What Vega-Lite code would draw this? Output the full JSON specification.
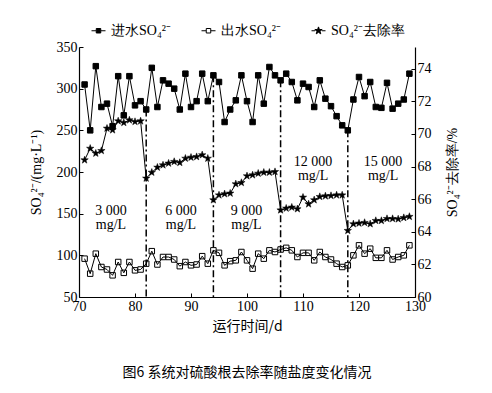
{
  "$schema": "https://vega.github.io/schema/vega-lite/v6.json",
  "width": 336,
  "height": 250,
  "autosize": {"type": "none"},
  "padding": {"left": 79, "top": 47, "right": 77, "bottom": 96},
  "background": "white",
  "config": {
    "view": {"stroke": null},
    "font": "Liberation Serif",
    "axis": {
      "grid": false,
      "domainColor": "black",
      "domainWidth": 1.2,
      "tickColor": "black",
      "tickSize": -4,
      "tickWidth": 1,
      "labelColor": "black",
      "labelFont": "Liberation Serif",
      "labelFontSize": 14,
      "labelPadding": 6,
      "labelOverlap": false,
      "labelFlush": false,
      "titleColor": "black",
      "titleFont": "Liberation Serif",
      "titleFontSize": 14,
      "titleFontWeight": "normal"
    }
  },
  "title": {
    "text": "图6 系统对硫酸根去除率随盐度变化情况",
    "orient": "bottom",
    "anchor": "middle",
    "font": "Noto Sans CJK SC",
    "fontSize": 14,
    "fontWeight": "normal",
    "color": "black",
    "offset": 33
  },
  "datasets": {
    "main": [
      {"day": 71, "in": 305, "out": 96, "rate": 68.40},
      {"day": 72, "in": 250, "out": 78, "rate": 69.11},
      {"day": 73, "in": 327, "out": 102, "rate": 68.81},
      {"day": 74, "in": 278, "out": 86, "rate": 68.97},
      {"day": 75, "in": 282, "out": 83, "rate": 70.34},
      {"day": 76, "in": 255, "out": 76, "rate": 70.24},
      {"day": 77, "in": 315, "out": 92, "rate": 70.79},
      {"day": 78, "in": 268, "out": 79, "rate": 70.69},
      {"day": 79, "in": 315, "out": 92, "rate": 70.85},
      {"day": 80, "in": 280, "out": 82, "rate": 70.75},
      {"day": 81, "in": 285, "out": 83, "rate": 70.79},
      {"day": 82, "in": 275, "out": 90, "rate": 67.28},
      {"day": 83, "in": 325, "out": 105, "rate": 67.64},
      {"day": 84, "in": 278, "out": 89, "rate": 67.95},
      {"day": 85, "in": 310, "out": 98, "rate": 68.09},
      {"day": 86, "in": 306, "out": 98, "rate": 68.20},
      {"day": 87, "in": 300, "out": 95, "rate": 68.30},
      {"day": 88, "in": 275, "out": 87, "rate": 68.24},
      {"day": 89, "in": 318, "out": 92, "rate": 68.50},
      {"day": 90, "in": 278, "out": 88, "rate": 68.56},
      {"day": 91, "in": 285, "out": 89, "rate": 68.60},
      {"day": 92, "in": 318, "out": 99, "rate": 68.71},
      {"day": 93, "in": 285, "out": 90, "rate": 68.50},
      {"day": 94, "in": 316, "out": 106, "rate": 65.95},
      {"day": 95, "in": 308, "out": 103, "rate": 66.25},
      {"day": 96, "in": 260, "out": 88, "rate": 66.32},
      {"day": 97, "in": 275, "out": 93, "rate": 66.36},
      {"day": 98, "in": 286, "out": 94, "rate": 66.93},
      {"day": 99, "in": 316, "out": 104, "rate": 67.01},
      {"day": 100, "in": 285, "out": 94, "rate": 67.42},
      {"day": 101, "in": 260, "out": 84, "rate": 67.48},
      {"day": 102, "in": 316, "out": 102, "rate": 67.58},
      {"day": 103, "in": 282, "out": 96, "rate": 67.64},
      {"day": 104, "in": 326, "out": 106, "rate": 67.64},
      {"day": 105, "in": 316, "out": 104, "rate": 67.68},
      {"day": 106, "in": 310, "out": 107, "rate": 65.33},
      {"day": 107, "in": 318, "out": 109, "rate": 65.44},
      {"day": 108, "in": 308, "out": 106, "rate": 65.50},
      {"day": 109, "in": 286, "out": 98, "rate": 65.40},
      {"day": 110, "in": 306, "out": 103, "rate": 66.11},
      {"day": 111, "in": 302, "out": 103, "rate": 65.70},
      {"day": 112, "in": 278, "out": 94, "rate": 65.95},
      {"day": 113, "in": 310, "out": 104, "rate": 66.15},
      {"day": 114, "in": 288, "out": 98, "rate": 66.19},
      {"day": 115, "in": 279, "out": 95, "rate": 66.21},
      {"day": 116, "in": 267, "out": 90, "rate": 66.25},
      {"day": 117, "in": 256, "out": 86, "rate": 66.25},
      {"day": 118, "in": 250, "out": 88, "rate": 64.07},
      {"day": 119, "in": 287, "out": 100, "rate": 64.48},
      {"day": 120, "in": 314, "out": 112, "rate": 64.52},
      {"day": 121, "in": 291, "out": 102, "rate": 64.56},
      {"day": 122, "in": 308, "out": 108, "rate": 64.48},
      {"day": 123, "in": 278, "out": 97, "rate": 64.68},
      {"day": 124, "in": 277, "out": 97, "rate": 64.68},
      {"day": 125, "in": 307, "out": 106, "rate": 64.80},
      {"day": 126, "in": 276, "out": 95, "rate": 64.80},
      {"day": 127, "in": 282, "out": 98, "rate": 64.78},
      {"day": 128, "in": 287, "out": 100, "rate": 64.86},
      {"day": 129, "in": 318, "out": 112, "rate": 64.93}
    ],
    "rules": [
      {"day": 82, "top": 275},
      {"day": 94, "top": 316},
      {"day": 106, "top": 310},
      {"day": 118, "top": 250}
    ],
    "labels": [
      {"day": 75.7, "value": 153, "text": "3 000"},
      {"day": 75.7, "value": 136, "text": "mg/L"},
      {"day": 88.2, "value": 153, "text": "6 000"},
      {"day": 88.2, "value": 136, "text": "mg/L"},
      {"day": 99.9, "value": 153, "text": "9 000"},
      {"day": 99.9, "value": 136, "text": "mg/L"},
      {"day": 111.8, "value": 212, "text": "12 000"},
      {"day": 111.8, "value": 195, "text": "mg/L"},
      {"day": 124.3, "value": 212, "text": "15 000"},
      {"day": 124.3, "value": 195, "text": "mg/L"}
    ],
    "series": [
      {"key": "in"},
      {"key": "out"},
      {"key": "rate"}
    ]
  },
  "layer": [
    {
      "layer": [
        {
          "data": {"name": "main"},
          "transform": [{"fold": ["in", "out"]}],
          "mark": {"type": "point", "filled": false, "stroke": "black", "strokeWidth": 1, "opacity": 1, "size": 30},
          "encoding": {
            "x": {
              "field": "day", "type": "quantitative",
              "scale": {"domain": [70, 130], "nice": false},
              "axis": {"values": [70, 80, 90, 100, 110, 120, 130], "labelOverlap": false, "title": "运行时间/d", "titleFont": "Noto Sans CJK SC", "titleFontSize": 14, "titlePadding": 6}
            },
            "y": {
              "field": "value", "type": "quantitative",
              "scale": {"domain": [50, 350], "nice": false, "zero": false},
              "axis": {"values": [50, 100, 150, 200, 250, 300, 350], "labelOverlap": false, "title": "SO₄²⁻/(mg·L⁻¹)", "titleX": -43, "titleY": 125, "titleAngle": -90, "titleAlign": "center", "titleBaseline": "middle"}
            },
            "shape": {
              "field": "key", "type": "nominal",
              "scale": {"domain": ["in", "out"], "range": ["square", "square"]},
              "legend": null
            },
            "fill": {"field": "key", "type": "nominal", "scale": {"domain": ["in", "out"], "range": ["black", "white"]}, "legend": null}
          }
        },
        {
          "data": {"name": "rules"},
          "mark": {"type": "rule", "color": "black", "strokeWidth": 1.5, "strokeDash": [7, 3, 2, 3]},
          "encoding": {
            "x": {"field": "day", "type": "quantitative", "scale": {"domain": [70, 130], "nice": false}},
            "y": {"field": "top", "type": "quantitative", "scale": {"domain": [50, 350], "nice": false, "zero": false}},
            "y2": {"datum": 50}
          }
        },
        {
          "data": {"name": "main"},
          "transform": [{"fold": ["in", "out"]}],
          "mark": {"type": "line", "color": "black", "strokeWidth": 1},
          "encoding": {
            "x": {"field": "day", "type": "quantitative", "scale": {"domain": [70, 130], "nice": false}},
            "y": {"field": "value", "type": "quantitative", "scale": {"domain": [50, 350], "nice": false, "zero": false}},
            "detail": {"field": "key"}
          }
        },
        {
          "data": {"name": "labels"},
          "mark": {"type": "text", "font": "Liberation Serif", "fontSize": 14, "color": "black", "baseline": "middle", "align": "center"},
          "encoding": {
            "x": {"field": "day", "type": "quantitative", "scale": {"domain": [70, 130], "nice": false}},
            "y": {"field": "value", "type": "quantitative", "scale": {"domain": [50, 350], "nice": false, "zero": false}},
            "text": {"field": "text"}
          }
        }
      ]
    },
    {
      "data": {"name": "main"},
      "transform": [{"fold": ["rate"]}],
      "layer": [
        {
          "mark": {"type": "point", "filled": true, "fill": "black", "stroke": "black", "strokeWidth": 0.5, "opacity": 1, "size": 60, "shape": "M0,-1L0.235,-0.324L0.951,-0.309L0.38,0.124L0.588,0.809L0,0.4L-0.588,0.809L-0.38,0.124L-0.951,-0.309L-0.235,-0.324Z"},
          "encoding": {
            "x": {"field": "day", "type": "quantitative", "scale": {"domain": [70, 130], "nice": false}},
            "y": {
              "field": "value", "type": "quantitative",
              "scale": {"domain": [60, 75.33], "nice": false, "zero": false},
              "axis": {"values": [60, 62, 64, 66, 68, 70, 72, 74], "tickCount": 8, "labelOverlap": false, "labelBound": false, "title": "SO₄²⁻去除率/%", "titleX": 37, "titleY": 125, "titleAngle": -90, "titleAlign": "center", "titleBaseline": "middle"}
            }
          }
        },
        {
          "mark": {"type": "line", "color": "black", "strokeWidth": 1},
          "encoding": {
            "x": {"field": "day", "type": "quantitative", "scale": {"domain": [70, 130], "nice": false}},
            "y": {"field": "value", "type": "quantitative", "scale": {"domain": [60, 75.33], "nice": false, "zero": false}}
          }
        }
      ]
    },
    {
      "data": {"name": "series"},
      "mark": {"type": "point", "filled": true, "opacity": 0, "strokeWidth": 1},
      "encoding": {
        "shape": {
          "field": "key", "type": "nominal",
          "scale": {"domain": ["in", "out", "rate"], "range": [
            "M-1,0H-0.34M0.34,0H1M-0.32,-0.32H0.32V0.32H-0.32Z",
            "M-1,0H-0.34M0.34,0H1M-0.32,-0.32H0.32V0.32H-0.32Z",
            "M-1,0H-0.5M0.5,0H1M0,-0.55L0.129,-0.178L0.523,-0.17L0.209,0.068L0.323,0.445L0,0.22L-0.323,0.445L-0.209,0.068L-0.523,-0.17L-0.129,-0.178Z"
          ]},
          "legend": {
            "orient": "none",
            "legendX": 12,
            "legendY": -24,
            "direction": "horizontal",
            "title": null,
            "padding": 0,
            "symbolSize": 196,
            "symbolStrokeWidth": 1,
            "symbolOpacity": 1,
            "labelFont": "Liberation Serif",
            "labelFontSize": 14,
            "labelColor": "black",
            "labelOffset": 5,
            "columnPadding": 28,
            "labelExpr": "datum.label === 'in' ? '进水SO₄²⁻' : datum.label === 'out' ? '出水SO₄²⁻' : 'SO₄²⁻去除率'"
          }
        },
        "fill": {
          "field": "key", "type": "nominal",
          "scale": {"domain": ["in", "out", "rate"], "range": ["black", "white", "black"]},
          "legend": {
            "orient": "none",
            "legendX": 12,
            "legendY": -24,
            "direction": "horizontal",
            "title": null,
            "padding": 0,
            "symbolSize": 196,
            "symbolStrokeWidth": 1,
            "symbolOpacity": 1,
            "labelFont": "Liberation Serif",
            "labelFontSize": 14,
            "labelColor": "black",
            "labelOffset": 5,
            "columnPadding": 28,
            "labelExpr": "datum.label === 'in' ? '进水SO₄²⁻' : datum.label === 'out' ? '出水SO₄²⁻' : 'SO₄²⁻去除率'"
          }
        },
        "stroke": {
          "field": "key", "type": "nominal",
          "scale": {"domain": ["in", "out", "rate"], "range": ["black", "black", "black"]},
          "legend": {
            "orient": "none",
            "legendX": 12,
            "legendY": -24,
            "direction": "horizontal",
            "title": null,
            "padding": 0,
            "symbolSize": 196,
            "symbolStrokeWidth": 1,
            "symbolOpacity": 1,
            "labelFont": "Liberation Serif",
            "labelFontSize": 14,
            "labelColor": "black",
            "labelOffset": 5,
            "columnPadding": 28,
            "labelExpr": "datum.label === 'in' ? '进水SO₄²⁻' : datum.label === 'out' ? '出水SO₄²⁻' : 'SO₄²⁻去除率'"
          }
        }
      }
    }
  ],
  "resolve": {"scale": {"y": "independent", "shape": "independent", "fill": "independent", "stroke": "independent"}}
}
